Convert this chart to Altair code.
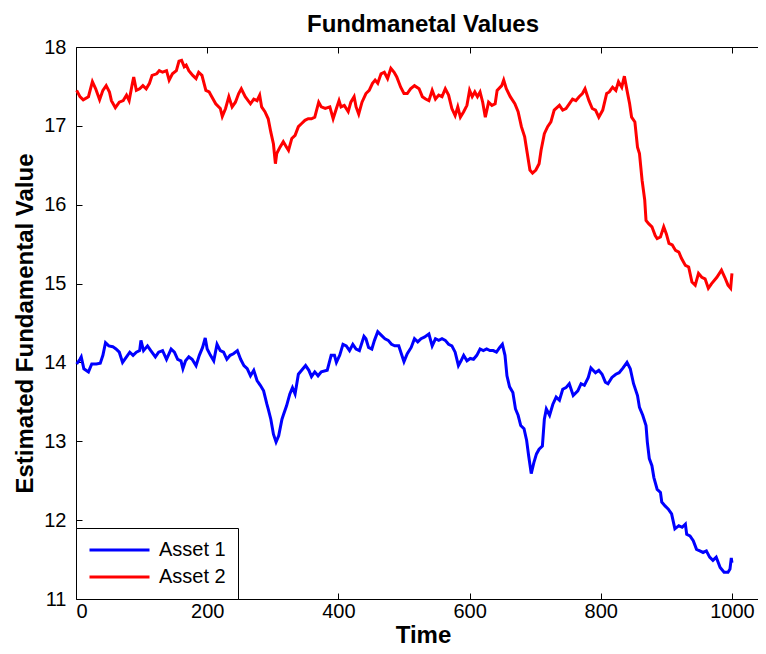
import altair as alt
import pandas as pd

# Asset 1 (blue) – time points and estimated fundamental values
t_asset1 = [1, 6, 8, 12, 19, 24, 31, 37, 41, 45, 50, 56, 61, 66, 71, 77, 82, 87, 92, 97,
            99, 103, 109, 114, 121, 126, 132, 138, 145, 150, 155, 160, 163, 167, 172, 177,
            183, 188, 193, 197, 200, 205, 210, 215, 220, 225, 230, 235, 240, 246, 251, 256,
            261, 266, 271, 276, 281, 286, 291, 293, 297, 301, 305, 309, 314, 316, 321, 326,
            330, 334, 339, 344, 350, 355, 359, 364, 369, 374, 383,
            389, 394, 397, 402, 407, 412, 417, 422, 427, 432, 439, 442, 446, 451, 455, 460,
            466, 471, 476, 481, 486, 492, 496, 500, 505, 511, 516, 521, 526, 531, 538, 543,
            548, 553, 558, 563, 568, 573, 578, 583, 587, 591, 596, 601, 606, 611, 616, 621,
            626, 631, 636, 641, 646, 650, 654, 657, 661, 666, 670, 674, 678, 683, 687, 690,
            694, 698, 702, 706, 711, 714, 717, 722, 727, 732, 737, 742,
            747, 752, 758, 765, 770, 775, 781, 785, 792, 797, 802, 807, 811, 817, 823, 828,
            834, 840, 845, 850, 856, 859, 864, 869, 871, 874, 878, 881, 886, 891, 893, 898,
            903, 908, 913, 919, 924, 929, 931, 936, 941, 946, 951, 956, 961, 966, 971, 976,
            982, 988, 994, 997, 999, 1000]
v_asset1 = [13.98, 14.04, 14.07, 13.92, 13.88, 13.98, 13.98, 13.99, 14.09, 14.25, 14.21,
            14.20, 14.17, 14.13, 14.00, 14.07, 14.13, 14.09, 14.13, 14.15, 14.28, 14.15,
            14.21, 14.15, 14.07, 14.13, 14.15, 14.04, 14.17, 14.13, 14.04, 14.02, 13.92,
            14.02, 14.07, 14.04, 13.96, 14.09, 14.19, 14.31, 14.17, 14.09, 14.02, 14.23,
            14.15, 14.13, 14.04, 14.09, 14.11, 14.15, 14.04, 13.96, 13.92, 13.83, 13.90,
            13.77, 13.71, 13.64, 13.47, 13.41, 13.28, 13.09, 12.99, 13.07, 13.28, 13.33,
            13.45, 13.60, 13.68, 13.60, 13.85, 13.90, 13.96, 13.90, 13.82, 13.88, 13.83,
            13.88, 13.90,
            14.09, 14.09, 14.00, 14.09, 14.23, 14.21, 14.15, 14.23, 14.17, 14.15, 14.33,
            14.30, 14.19, 14.17, 14.28, 14.39, 14.34, 14.30, 14.28, 14.23, 14.21, 14.21,
            14.11, 14.01, 14.11, 14.19, 14.30, 14.26, 14.30, 14.32, 14.36, 14.21, 14.30,
            14.28, 14.30, 14.28, 14.23, 14.21, 14.13, 13.96, 14.02, 14.09, 14.02, 14.05,
            14.04, 14.09, 14.17, 14.15, 14.17, 14.15, 14.15, 14.13, 14.19, 14.23, 14.09,
            13.83, 13.69, 13.62, 13.41, 13.33, 13.20, 13.16, 13.01, 12.82, 12.59, 12.73,
            12.84, 12.90, 12.94, 13.28, 13.41, 13.33, 13.47, 13.56, 13.52, 13.66,
            13.68, 13.73, 13.58, 13.64, 13.73, 13.71, 13.81, 13.93, 13.87, 13.90, 13.85,
            13.75, 13.73, 13.81, 13.85, 13.87, 13.93, 14.00, 13.92, 13.73, 13.58, 13.43,
            13.33, 13.20, 12.99, 12.78, 12.69, 12.54, 12.39, 12.35, 12.23, 12.18, 12.14,
            12.08, 11.89, 11.93, 11.91, 11.95, 11.82, 11.80, 11.74, 11.63, 11.61, 11.59,
            11.61, 11.53, 11.49, 11.53, 11.40, 11.34, 11.34, 11.38, 11.52, 11.46]

# Asset 2 (red)
t_asset2 = [1, 6, 11, 19, 25, 30, 36, 41, 46, 51, 54, 60, 66, 72, 77, 81, 86, 88, 92, 97,
            102, 107, 112, 116, 123, 127, 132, 138, 142, 147, 153, 157, 161, 165, 168, 172,
            178, 183, 187, 192, 198, 203, 207, 213, 220, 223, 228, 233, 238, 243,
            248, 252, 258, 266, 271, 276, 280, 283, 288, 293, 297, 301, 304, 306, 311, 316,
            321, 324, 329, 334, 339, 344, 349, 354, 359, 364, 370, 374, 380, 387, 392, 397,
            401, 404, 409, 415, 419, 424, 427, 431, 436, 442, 447, 452, 456, 460, 465, 470,
            475, 480, 485, 489, 495, 500,
            505, 510, 516, 523, 528, 533, 538, 543, 548, 553, 558, 563, 568, 573, 578, 582,
            586, 591, 596, 600, 604, 608, 612, 616, 620, 624, 629, 634, 639, 642, 649, 652,
            656, 662, 669, 674, 679, 684, 688, 692, 696, 701, 706, 709, 714, 719, 724, 729,
            737, 742, 747, 752, 757, 762, 767, 772, 776,
            782, 787, 792, 797, 803, 809, 813, 818, 823, 827, 832, 836, 840, 844, 847, 852,
            856, 859, 863, 867, 869, 873, 878, 883, 886, 891, 896, 900, 904, 909, 914, 919,
            923, 929, 934, 939, 944, 949, 954, 959, 964, 969, 977, 984, 989, 994, 998, 1000]
v_asset2 = [17.45, 17.37, 17.33, 17.37, 17.56, 17.47, 17.33, 17.45, 17.51, 17.43, 17.32,
            17.23, 17.30, 17.32, 17.39, 17.32, 17.54, 17.62, 17.45, 17.47, 17.51, 17.47,
            17.54, 17.64, 17.66, 17.70, 17.68, 17.70, 17.58, 17.66, 17.70, 17.82, 17.83,
            17.75, 17.77, 17.70, 17.64, 17.60, 17.68, 17.64, 17.45, 17.43, 17.37, 17.28,
            17.22, 17.12, 17.22, 17.37, 17.24, 17.30,
            17.41, 17.47, 17.37, 17.28, 17.34, 17.32, 17.39, 17.24, 17.18, 17.09, 16.92,
            16.77, 16.52, 16.65, 16.73, 16.80, 16.73, 16.69, 16.84, 16.88, 16.99, 17.03,
            17.07, 17.09, 17.09, 17.11, 17.30, 17.24, 17.22, 17.24, 17.09, 17.22, 17.32,
            17.24, 17.26, 17.18, 17.30, 17.37, 17.24, 17.15, 17.30, 17.41, 17.45, 17.54,
            17.58, 17.54, 17.66, 17.68, 17.60, 17.73, 17.68, 17.62, 17.49, 17.41,
            17.41, 17.47, 17.51, 17.47, 17.37, 17.34, 17.32, 17.45, 17.34, 17.39, 17.37,
            17.47, 17.39, 17.22, 17.13, 17.24, 17.11, 17.18, 17.26, 17.45, 17.37, 17.43,
            17.37, 17.43, 17.30, 17.11, 17.30, 17.26, 17.28, 17.45, 17.51, 17.58, 17.47,
            17.37, 17.28, 17.18, 16.99, 16.86, 16.65, 16.44, 16.40, 16.44, 16.52, 16.69,
            16.90, 16.99, 17.05, 17.20, 17.26, 17.20, 17.22, 17.28, 17.34, 17.32, 17.37,
            17.41, 17.47,
            17.32, 17.22, 17.20, 17.11, 17.20, 17.41, 17.43, 17.49, 17.45, 17.56, 17.49,
            17.63, 17.45, 17.28, 17.11, 17.05, 16.73, 16.65, 16.31, 16.06, 15.80, 15.76,
            15.72, 15.61, 15.57, 15.59, 15.72, 15.63, 15.51, 15.49, 15.42, 15.40, 15.32,
            15.23, 15.21, 15.02, 14.98, 15.13, 15.08, 15.06, 14.94, 15.00, 15.08, 15.17,
            15.08, 14.98, 14.94, 15.13]

series_names = ["Asset 1", "Asset 2"]
series_colors = ["#0000FF", "#FF0000"]
x_ticks = [0, 200, 400, 600, 800, 1000]
y_ticks = [11, 12, 13, 14, 15, 16, 17, 18]
x_domain = [0, 1058]   # the right-hand side of the axes box lies outside the picture
y_domain = [11, 18]

df = pd.concat([
    pd.DataFrame({"Time": t_asset1, "Value": v_asset1, "Series": series_names[0]}),
    pd.DataFrame({"Time": t_asset2, "Value": v_asset2, "Series": series_names[1]}),
])

FONT = "Liberation Sans"

x_scale = alt.Scale(domain=x_domain, nice=False, zero=False)
y_scale = alt.Scale(domain=y_domain, nice=False, zero=False)

y_axis = alt.Axis(values=y_ticks, title="Estimated Fundamental Value", format="d",
                  offset=-6, tickSize=6, domain=False, grid=False,
                  labelPadding=10, titlePadding=6)

lines = alt.Chart(df).mark_line(strokeWidth=3).encode(
    x=alt.X("Time:Q", scale=x_scale,
            axis=alt.Axis(values=x_ticks, title="Time", orient="bottom", format="d",
                          offset=-6, tickSize=6, domain=False, grid=False,
                          labelPadding=2, titlePadding=2)),
    y=alt.Y("Value:Q", scale=y_scale, axis=y_axis),
    color=alt.Color("Series:N",
                    scale=alt.Scale(domain=series_names, range=series_colors),
                    legend=alt.Legend(title=None, orient="bottom-left", offset=0,
                                      symbolType="stroke", symbolSize=3600,
                                      symbolStrokeWidth=3, clipHeight=20,
                                      rowPadding=7, labelOffset=8, padding=12,
                                      labelFontSize=20, labelFont=FONT,
                                      labelColor="black",
                                      strokeColor="black", fillColor="white")),
    order=alt.Order("Time:Q"),
)

top_axis = alt.Chart(df).mark_line(opacity=0).encode(
    x=alt.X("Time:Q", scale=x_scale,
            axis=alt.Axis(values=x_ticks, title=None, orient="top", labels=False,
                          offset=-6, tickSize=6, domain=False, grid=False)),
    y=alt.Y("Value:Q", scale=y_scale, axis=y_axis),
)

chart = alt.layer(lines, top_axis).resolve_axis(x="independent").properties(
    width=694,
    height=552,
    title=alt.TitleParams("Fundmanetal Values", font=FONT, fontSize=24,
                          fontWeight="bold", color="black", offset=0),
    padding={"left": 5, "top": 5, "right": -12, "bottom": 0},
).configure_view(
    stroke="black", strokeWidth=1
).configure_axis(
    labelFont=FONT, labelFontSize=20, labelColor="black",
    titleFont=FONT, titleFontSize=24, titleFontWeight="bold", titleColor="black",
    tickColor="black", tickWidth=1,
)

chart.save("out.html", embed_options={"renderer": "svg", "actions": False})
